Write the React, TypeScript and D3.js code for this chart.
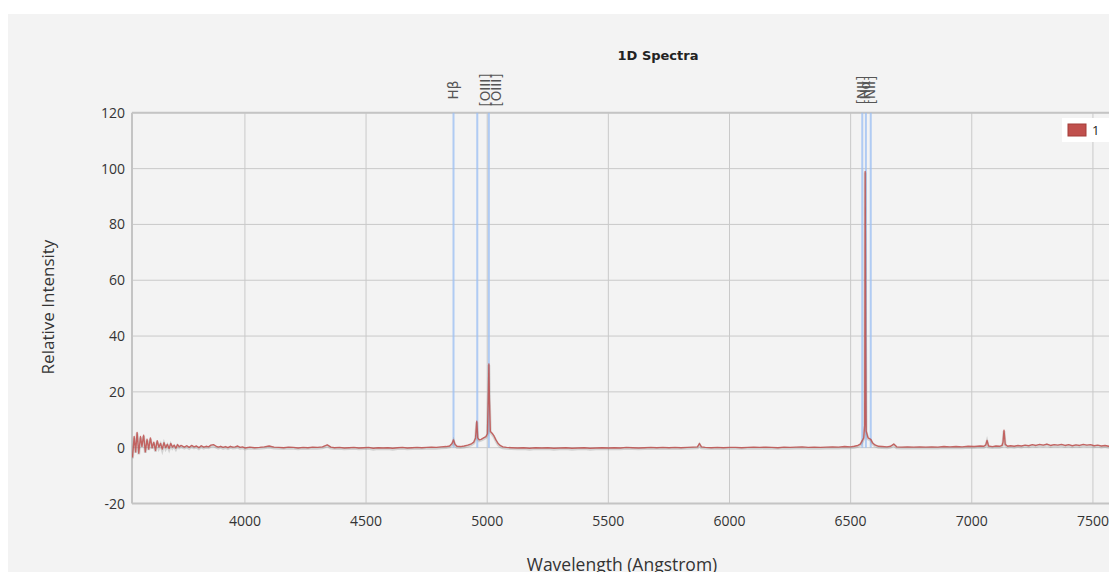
import React from "react";
import * as d3 from "d3";

const wavelengths: number[] = [
  3536, 3543, 3549, 3555, 3562, 3569, 3575, 3582, 3589, 3596, 3603, 3610, 3617, 3624, 3631, 3638, 3645, 3652, 3659, 3666,
  3673, 3680, 3687, 3694, 3701, 3708, 3715, 3722, 3729, 3736,
  3750, 3760, 3770, 3780, 3790, 3800, 3810, 3820, 3830, 3840, 3850, 3860, 3870, 3880, 3890, 3900, 3910, 3920, 3930, 3940,
  3950, 3960, 3970, 3980, 3990, 4000,
  4020, 4040, 4060, 4080, 4100, 4120, 4140, 4160, 4180, 4200, 4220, 4240, 4260, 4280, 4300, 4320, 4340, 4355, 4370, 4390,
  4410, 4430, 4450, 4470, 4490, 4510, 4530, 4550, 4570, 4590, 4610, 4630, 4650, 4670, 4690, 4710, 4730, 4750, 4770, 4790,
  4810, 4830, 4845, 4855, 4861, 4867, 4875, 4890, 4905, 4920, 4935, 4945, 4952, 4957, 4961, 4967, 4975, 4985, 4995, 5001,
  5005, 5007, 5009, 5013, 5020, 5028, 5036, 5045, 5055, 5065, 5080, 5100,
  5125, 5150, 5175, 5200, 5225, 5250, 5275, 5300, 5325, 5350, 5375, 5400, 5425, 5450, 5475, 5500, 5525, 5550, 5575, 5600,
  5625, 5650, 5675, 5700, 5725, 5750, 5775, 5800, 5825, 5850, 5868, 5876, 5884, 5900, 5925, 5950, 5975, 6000, 6025, 6050,
  6075, 6100, 6125, 6150, 6175, 6200, 6225, 6250, 6275, 6300, 6325, 6350, 6375, 6400, 6425, 6450, 6475, 6500, 6515, 6530,
  6540, 6548, 6554, 6558, 6560, 6562, 6564, 6572, 6583, 6590, 6600, 6615, 6630, 6650, 6665, 6678, 6690, 6710, 6735, 6760,
  6785, 6810, 6835, 6860, 6885, 6910, 6935, 6960, 6985, 7010, 7035, 7050, 7058, 7063, 7069, 7085, 7100, 7115, 7125, 7129,
  7133, 7138, 7148, 7160, 7175, 7190, 7205, 7220, 7235, 7250, 7265, 7280, 7295, 7310, 7325, 7340, 7355, 7370, 7385, 7400,
  7415, 7430, 7445, 7460, 7475, 7490, 7505, 7520, 7535, 7550, 7565, 7580, 7595, 7610,
];

const intensity: number[] = [
  -3.5, 4, -1.5, 5.5, -2, 4, 0.5, 4.5, -1.5, 3, -0.5, 3.5, 0, 2, -1, 2.5, 0.2, 1.5, -0.5, 1.8,
  0, 1.2, -0.3, 1.5, 0.2, 0.9, -0.2, 1.1, 0.3, 0.8,
  0.2, 0.7, 0.1, 0.8, 0.3, 0.6, 0.0, 0.7, 0.2, 0.5, 0.3, 0.9, 1.1, 0.6, 0.2, 0.5, 0.1, 0.4, 0.0, 0.5,
  0.2, 0.3, 0.6, 0.1, 0.3, -0.1,
  0.2, 0.0, 0.1, 0.3, 0.6, 0.2, 0.1, 0.0, 0.2, 0.1, -0.1, 0.1, 0.0, 0.2, 0.1, 0.3, 1.0, 0.2, 0.0, 0.1,
  -0.1, 0.0, 0.1, -0.1, 0.0, 0.1, -0.2, 0.0, -0.1, 0.0, -0.2, 0.0, 0.1, -0.1, 0.0, 0.1, 0.0, 0.1, 0.2, 0.1,
  0.3, 0.4, 0.6, 1.5, 2.8, 1.2, 0.5, 0.4, 0.6, 0.9, 1.4, 2.0, 3.5, 9.5, 3.5, 2.8, 3.0, 3.5, 4.0, 5.0,
  20, 30, 18, 5.8, 5.2, 4.2, 2.8, 1.5, 0.7, 0.3, 0.1, 0.0,
  -0.1, 0.0, -0.2, 0.0, -0.1, 0.0, -0.2, -0.1, 0.0, -0.2, -0.1, 0.0, -0.2, -0.1, 0.0, -0.1, 0.0, -0.1, 0.1, 0.0,
  -0.1, 0.0, 0.1, 0.0, 0.1, 0.0, 0.1, 0.0, 0.1, 0.2, 0.3, 1.5, 0.3, 0.1, 0.0, 0.1, 0.0, 0.1, 0.1, 0.0,
  0.1, 0.2, 0.1, 0.2, 0.1, 0.0, 0.2, 0.1, 0.2, 0.3, 0.1, 0.2, 0.1, 0.2, 0.3, 0.2, 0.4, 0.3, 0.5, 0.8,
  1.3, 2.5, 3.5, 8, 99, 40, 6, 3.5, 3.0, 1.8, 1.0, 0.5, 0.4, 0.3, 0.5, 1.3, 0.3, 0.2, 0.3, 0.2,
  0.3, 0.2, 0.3, 0.2, 0.4, 0.3, 0.4, 0.3, 0.5, 0.4, 0.6, 0.5, 1.0, 2.6, 0.6, 0.4, 0.6, 0.5, 0.8, 2.0,
  6.3, 1.2, 0.5, 0.7, 0.5, 0.8, 0.6, 0.9, 0.7, 1.1, 0.8, 1.2, 0.9, 1.3, 0.8, 1.1, 0.9, 1.2, 0.8, 1.1,
  0.7, 1.0, 0.8, 1.2, 0.9, 1.1, 0.7, 0.9, 0.6, 0.8, 0.5, 0.7, 0.5, 0.6,
];

const lineNames: string[] = ["H\u03b2", "[OIII]", "[OIII]", "[NII]", "H\u03b1", "[NII]"];
const lineWavelengths: number[] = [4861, 4959, 5007, 6548, 6563, 6583];

const xTicks: number[] = [4000, 4500, 5000, 5500, 6000, 6500, 7000, 7500];
const yTicks: number[] = [-20, 0, 20, 40, 60, 80, 100, 120];

const title = "1D Spectra";
const xTitle = "Wavelength (Angstrom)";
const yTitle = "Relative Intensity";
const seriesName = "1";

export default function App() {
  const W = 1109;
  const H = 572;
  const left = 132;
  const right = 1122;
  const top = 112.8;
  const bottom = 503.5;

  const x = d3.scaleLinear().domain([3534, 7620]).range([left, right]);
  const y = d3.scaleLinear().domain([-20, 120]).range([bottom, top]);

  const pts: [number, number][] = wavelengths.map((w, i) => [w, intensity[i]]);
  const line = d3
    .line<[number, number]>()
    .x((d) => x(d[0]))
    .y((d) => y(d[1]));
  const path = line(pts) || "";

  const labelShift = [0, 8, 8, 0, 0, 0];
  const tickFont = "'Open Sans', 'Noto Sans', sans-serif";

  return (
    <svg
      width={W}
      height={H}
      style={{ display: "block", position: "fixed", left: 0, top: 0 }}
      fontFamily={tickFont}
    >
      <defs>
        <clipPath id="plotClip">
          <rect x={left} y={top} width={right - left} height={bottom - top} />
        </clipPath>
      </defs>
      <rect x={0} y={0} width={W} height={H} fill="#ffffff" />
      <rect x={8} y={14} width={W - 8} height={H - 14} fill="#f3f3f3" />
      <text x={658} y={60} textAnchor="middle" fontFamily="'DejaVu Sans', sans-serif" fontWeight="bold" fontSize={13} fill="#222">
        {title}
      </text>
      {yTicks.map((t) => (
        <line key={"gy" + t} x1={left} x2={right} y1={y(t)} y2={y(t)} stroke="#c9c9c9" strokeWidth={1} />
      ))}
      {xTicks.map((t) => (
        <line key={"gx" + t} x1={x(t)} x2={x(t)} y1={top} y2={bottom} stroke="#c9c9c9" strokeWidth={1} />
      ))}
      <line x1={left} x2={right} y1={top} y2={top} stroke="#c4c4c4" strokeWidth={2} />
      <line x1={left} x2={right} y1={bottom} y2={bottom} stroke="#c4c4c4" strokeWidth={2} />
      <line x1={left} x2={left} y1={top} y2={bottom} stroke="#c4c4c4" strokeWidth={2} />
      {yTicks.map((t) => (
        <text key={"ty" + t} x={left - 7} y={y(t) + 5} textAnchor="end" fontSize={14} fill="#333">
          {t}
        </text>
      ))}
      {xTicks.map((t) => (
        <text key={"tx" + t} x={x(t)} y={526} textAnchor="middle" fontSize={14} fill="#333">
          {t}
        </text>
      ))}
      {lineWavelengths.map((w, i) => (
        <line key={"lm" + i} x1={x(w)} x2={x(w)} y1={top} y2={y(0)} stroke="#9fc0f2" strokeOpacity={0.8} strokeWidth={2} />
      ))}
      {lineWavelengths.map((w, i) => (
        <text
          key={"ll" + i}
          transform={`translate(${x(w) + labelShift[i] + 4.5},90) rotate(-90)`}
          textAnchor="middle"
          fontSize={13.5}
          fontFamily="'DejaVu Sans', sans-serif"
          fill="#555"
        >
          {lineNames[i]}
        </text>
      ))}
      <g clipPath="url(#plotClip)">
        <path d={path} fill="none" stroke="#888" strokeOpacity={0.3} strokeWidth={2.8} transform="translate(0,1)" />
        <path d={path} fill="none" stroke="#c0504d" strokeOpacity={0.85} strokeWidth={1.4} strokeLinejoin="round" />
      </g>
      <rect x={1062} y={118} width={50} height={24} fill="#ffffff" />
      <rect x={1068} y={124} width={18} height={12} fill="#c0504d" stroke="#a33c39" strokeWidth={1} />
      <text x={1092} y={135} fontSize={13} fill="#222">
        {seriesName}
      </text>
      <text x={622} y={571} textAnchor="middle" fontSize={17.5} fill="#333">
        {xTitle}
      </text>
      <text transform="translate(54,307) rotate(-90)" textAnchor="middle" fontSize={17} fill="#333">
        {yTitle}
      </text>
    </svg>
  );
}
